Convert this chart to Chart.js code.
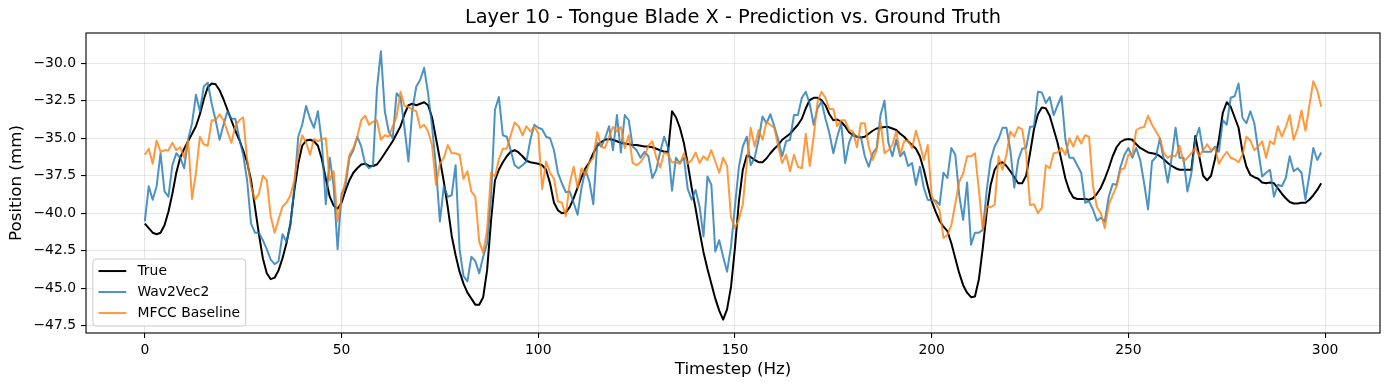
<!DOCTYPE html>
<html>
<head>
<meta charset="utf-8">
<script src="https://cdn.jsdelivr.net/npm/chart.js@4.4.0/dist/chart.umd.min.js"></script>
<style>
    html, body { margin: 0; padding: 0; background: #ffffff; }
    canvas { display: block; }
</style>
</head>
<body>
<canvas id="chart" width="1389" height="390"></canvas>
<script>
// Layer 10 - Tongue Blade X, one value per timestep (0..299)
const trueVals = [
    -40.7, -41.0, -41.3, -41.4, -41.3, -40.8, -39.9, -38.7, -37.3, -36.3,
    -35.7, -35.2, -34.7, -34.2, -33.4, -32.4, -31.6, -31.35, -31.4, -31.8,
    -32.4, -33.1, -33.8, -34.5, -35.1, -35.8, -36.6, -37.8, -39.6, -41.4,
    -43.0, -44.0, -44.4, -44.3, -43.8, -43.0, -42.0, -40.7, -38.5, -36.7,
    -35.5, -35.15, -35.1, -35.2, -35.5, -36.4, -37.7, -38.9, -39.5, -39.7,
    -39.3, -38.5, -37.8, -37.3, -37.0, -36.75, -36.7, -36.85, -36.85, -36.75,
    -36.4, -36.0, -35.6, -35.2, -34.7, -34.2, -33.4, -32.8, -32.7, -32.8,
    -32.7, -32.6, -32.8, -33.6, -35.0, -36.4, -37.9, -39.6, -41.5, -42.8,
    -43.9, -44.7, -45.3, -45.7, -46.1, -46.1, -45.6, -43.8, -40.5, -37.8,
    -37.1, -36.6, -36.2, -35.9, -35.8, -35.95, -36.2, -36.5, -36.6, -36.65,
    -36.7, -36.8, -37.1, -38.0, -39.3, -39.8, -40.0, -39.95, -39.6, -39.0,
    -38.3, -37.6, -37.0, -36.6, -36.0, -35.5, -35.25, -35.1, -35.05, -35.1,
    -35.2, -35.3, -35.35, -35.4, -35.45, -35.45, -35.5, -35.55, -35.55, -35.6,
    -35.7, -35.8, -35.9, -35.9, -33.2, -33.6, -34.3, -35.3, -36.7, -38.3,
    -39.7, -41.2, -42.6, -43.7, -44.7, -45.7, -46.5, -47.1, -46.4, -44.9,
    -42.3, -39.2, -37.1, -36.15, -36.25, -36.45, -36.6, -36.6, -36.35, -36.0,
    -35.7, -35.45, -35.1, -34.9, -34.7, -34.4, -34.1, -33.7, -33.0, -32.45,
    -32.3, -32.3, -32.45, -32.8, -33.4, -33.8, -33.75, -33.9, -34.2, -34.6,
    -34.8, -34.9, -34.95, -34.9, -34.7, -34.5, -34.35, -34.3, -34.25, -34.25,
    -34.35, -34.45, -34.7, -34.9, -35.2, -35.45, -35.7, -36.2, -37.1, -38.2,
    -39.2, -39.9, -40.5, -40.9, -41.2, -42.0, -43.0, -44.0, -44.8, -45.3,
    -45.6, -45.55, -44.4, -42.3, -39.9, -38.1, -37.1, -36.7, -36.6, -36.85,
    -37.2, -37.6, -38.0, -38.0, -37.5, -36.0, -34.4, -33.4, -32.95, -33.0,
    -33.5, -34.4, -35.3, -36.5, -37.7, -38.5, -38.95, -39.05, -39.05, -39.05,
    -39.1, -39.0, -38.7, -38.3, -37.7, -37.0, -36.2, -35.6, -35.25, -35.1,
    -35.05, -35.1, -35.4, -35.65, -35.8, -35.95, -36.0, -36.05, -36.2, -36.4,
    -36.65, -36.85, -37.0, -37.1, -37.1, -37.1, -37.1, -34.85, -36.2, -37.5,
    -37.8, -37.5, -36.4, -35.1, -33.3, -32.6, -32.9, -33.6, -34.3, -35.9,
    -36.9, -37.45, -37.6, -37.7, -37.95, -38.0, -37.95, -38.0, -38.35, -38.7,
    -39.0, -39.25, -39.35, -39.35, -39.3, -39.3, -39.1, -38.8, -38.45, -38.0
];

const wav2vecVals = [
    -40.55, -38.2, -39.1, -38.2, -36.0, -38.55, -38.9, -36.8, -36.0, -36.3,
    -37.0, -35.1, -34.0, -32.1, -33.2, -31.55, -31.3, -32.7, -33.8, -35.1,
    -34.1, -33.2, -33.7, -33.7, -35.0, -36.1, -37.8, -40.7, -41.3, -41.3,
    -41.8, -42.4, -43.1, -43.4, -43.2, -41.4, -41.9, -40.8, -38.3, -34.9,
    -34.1, -32.85, -33.7, -34.3, -33.2, -35.3, -39.4, -36.3, -38.2, -42.4,
    -38.7, -38.2, -36.3, -35.8, -34.9, -35.55, -36.7, -37.0, -36.8, -31.7,
    -29.2, -33.2, -34.55, -35.0, -32.0, -32.3, -34.3, -36.55, -33.1, -31.55,
    -31.1, -30.3, -32.0, -34.2, -36.9, -40.55, -38.2, -38.9, -38.8, -36.8,
    -42.4, -44.2, -44.55, -42.9, -43.2, -44.0, -42.9, -42.0, -38.9, -33.1,
    -32.25, -34.8, -34.9, -35.8, -36.8, -37.0, -36.8, -36.55, -35.1, -34.1,
    -34.3, -34.4, -34.9, -35.0, -35.8, -37.3, -38.0, -38.6, -38.55, -39.3,
    -40.1, -38.3, -37.1, -37.9, -39.4, -35.3, -35.55, -35.0, -34.2, -35.8,
    -33.45, -35.95, -33.45, -33.8, -35.55, -35.8, -36.3, -35.9, -36.2, -37.65,
    -37.1, -35.9, -34.9, -35.65, -38.5, -36.3, -36.65, -36.3, -38.4, -39.1,
    -38.45, -39.55, -41.55, -37.55, -38.1, -42.55, -41.8, -42.9, -43.9, -42.2,
    -39.55, -36.9, -35.55, -34.9, -36.8, -36.3, -35.1, -33.55, -34.0, -33.4,
    -34.2, -35.1, -36.2, -35.2, -35.1, -33.45, -33.45, -32.3, -31.9, -32.7,
    -34.1, -33.0, -32.55, -33.7, -34.65, -36.0, -34.9, -34.0, -36.65, -35.3,
    -34.65, -34.9, -34.9, -36.2, -36.9, -36.0, -35.65, -33.45, -32.5, -35.3,
    -36.2, -35.1, -36.2, -35.9, -36.85, -36.65, -38.1, -36.9, -38.3, -39.1,
    -39.15, -39.15, -39.45, -37.3, -37.65, -35.65, -36.1, -38.8, -40.45, -37.95,
    -42.1, -41.3, -41.3, -41.1, -38.45, -36.45, -35.55, -35.05, -34.3, -34.3,
    -35.8, -38.3, -36.45, -35.7, -35.65, -34.25, -34.2, -31.9, -31.95, -32.65,
    -32.25, -33.45, -32.8, -32.2, -35.1, -36.3, -36.3, -36.8, -37.3, -39.3,
    -39.2, -39.75, -40.5, -40.3, -40.55, -38.9, -38.05, -38.1, -36.9, -36.1,
    -35.65, -36.3, -35.65, -36.45, -38.0, -39.75, -36.55, -36.25, -35.0, -36.45,
    -37.95, -36.3, -34.3, -36.3, -36.3, -38.55, -37.35, -35.1, -34.3, -35.9,
    -35.9, -35.9, -35.55, -35.9, -33.8, -34.1, -32.3, -32.2, -31.35, -33.65,
    -34.0, -33.2, -34.0, -35.8, -37.55, -37.3, -37.1, -38.9, -38.1, -38.2,
    -37.65, -36.2, -37.2, -37.0, -37.3, -39.1, -37.45, -35.65, -36.45, -35.95
];

const mfccVals = [
    -36.1, -35.7, -36.7, -35.15, -35.9, -35.8, -35.8, -35.3, -35.8, -35.6,
    -36.3, -35.1, -39.05, -37.3, -34.9, -35.4, -35.5, -33.8, -33.8, -33.4,
    -33.8, -34.55, -35.3, -34.2, -33.8, -33.6, -36.4, -38.2, -39.1, -38.7,
    -37.5, -37.8, -40.2, -41.3, -40.4, -39.55, -39.3, -38.8, -37.8, -36.0,
    -34.8, -35.3, -36.1, -35.05, -35.2, -35.05, -35.0, -37.8, -37.2, -40.55,
    -39.0, -37.8, -36.1, -35.65, -34.9, -33.8, -33.5, -34.1, -33.9, -33.8,
    -35.1, -34.8, -34.9, -34.2, -33.55, -31.9, -32.85, -32.9, -33.1, -33.2,
    -34.3, -34.1, -34.55, -35.45, -38.1, -36.7, -36.3, -35.45, -36.0, -36.0,
    -36.1, -37.7, -37.2, -38.55, -38.9, -41.9, -42.65, -41.1, -37.3, -37.55,
    -36.4, -35.7, -35.7, -34.8, -33.95, -34.2, -34.8, -34.2, -34.55, -34.25,
    -34.65, -38.4, -36.55, -37.3, -37.7, -39.2, -39.3, -40.2, -38.0, -36.9,
    -38.3, -37.0, -37.45, -36.6, -36.3, -34.6, -35.55, -35.65, -34.9, -34.25,
    -34.55, -34.25, -35.65, -34.8, -36.65, -36.8, -36.6, -36.2, -35.5, -35.2,
    -36.3, -36.95, -35.95, -36.1, -36.6, -36.6, -36.7, -36.0, -36.7, -36.45,
    -35.95, -36.65, -36.2, -36.45, -35.8, -36.55, -37.3, -36.3, -36.85, -40.3,
    -41.0, -40.4, -39.4, -36.65, -34.3, -35.55, -34.45, -35.1, -33.9, -34.1,
    -34.3, -35.55, -36.65, -36.1, -37.2, -36.1, -36.9, -37.0, -34.7, -36.85,
    -34.9, -32.55, -31.9, -32.3, -33.05, -33.05, -34.2, -33.8, -33.8, -34.45,
    -34.55, -35.6, -34.0, -34.0, -35.55, -36.45, -35.8, -33.9, -36.0, -35.8,
    -35.45, -34.55, -36.1, -35.2, -35.15, -35.65, -34.5, -35.4, -36.45, -35.45,
    -38.85, -39.35, -39.8, -41.65, -41.45, -40.8, -39.35, -37.9, -37.35, -36.2,
    -36.2, -36.0, -38.45, -41.15, -39.55, -39.6, -39.45, -36.2, -37.1, -36.1,
    -34.55, -34.9, -34.25, -34.4, -36.0, -39.45, -39.4, -40.0, -39.65, -36.8,
    -37.0, -36.0, -35.95, -35.65, -36.1, -35.0, -35.55, -34.85, -35.35, -34.8,
    -34.9, -38.2, -39.6, -40.0, -41.0, -39.45, -38.8, -38.2, -37.1, -37.0,
    -36.1, -36.1, -34.45, -34.3, -34.25, -33.5, -34.1, -34.55, -35.0, -36.0,
    -36.3, -36.15, -36.2, -35.5, -36.55, -36.3, -36.0, -35.65, -36.2, -35.8,
    -35.4, -35.8, -35.65, -36.7, -36.25, -35.9, -36.3, -36.4, -36.6, -36.1,
    -34.9, -35.15, -35.8, -35.55, -35.2, -36.3, -35.2, -35.4, -34.2, -34.9,
    -34.25, -33.45, -35.1, -34.35, -33.15, -34.5, -32.8, -31.2, -31.8, -32.9
];

const xTicks = [0, 50, 100, 150, 200, 250, 300];
const yTicks = [-47.5, -45.0, -42.5, -40.0, -37.5, -35.0, -32.5, -30.0];

const seriesNames = ['True', 'Wav2Vec2', 'MFCC Baseline'];
const titleText = 'Layer 10 - Tongue Blade X - Prediction vs. Ground Truth';

const FONT = 'DejaVu Sans, Arial, sans-serif';
const toPoints = (vals) => vals.map((v, i) => ({ x: i, y: v }));
const fmtY = (v) => (v < 0 ? '\u2212' : '') + Math.abs(v).toFixed(1);

const gridColor = 'rgba(176, 176, 176, 0.3)';

const framePlugin = {
    id: 'mplFrame',
    beforeDraw(c) {
        const { ctx, width, height } = c;
        ctx.save();
        ctx.fillStyle = '#ffffff';
        ctx.fillRect(0, 0, width, height);
        ctx.restore();
    },
    afterDraw(c) {
        const { ctx, chartArea: a } = c;
        ctx.save();
        // axes frame
        ctx.strokeStyle = '#000000';
        ctx.lineWidth = 1.1;
        ctx.strokeRect(a.left, a.top, a.right - a.left, a.bottom - a.top);

        // title, centred over the axes
        ctx.fillStyle = '#000000';
        ctx.font = '19.4px ' + FONT;
        ctx.textAlign = 'center';
        ctx.textBaseline = 'middle';
        ctx.fillText(titleText, (a.left + a.right) / 2, 18);

        // legend, lower left
        const fs = 13.9;
        ctx.font = fs + 'px ' + FONT;
        const labels = c.data.datasets.map((d) => d.label);
        const textW = Math.max(...labels.map((l) => ctx.measureText(l).width));
        const pad = 0.4 * fs, handle = 2.0 * fs, gap = 0.8 * fs, rowH = 21;
        const boxW = pad * 2 + handle + gap + textW;
        const boxH = 67;
        const bx = a.left + 0.5 * fs;
        const by = a.bottom - 0.5 * fs - boxH;
        ctx.beginPath();
        ctx.roundRect(bx, by, boxW, boxH, 3);
        ctx.fillStyle = 'rgba(255, 255, 255, 0.8)';
        ctx.fill();
        ctx.strokeStyle = '#cccccc';
        ctx.lineWidth = 1;
        ctx.stroke();
        ctx.textAlign = 'left';
        labels.forEach((l, i) => {
            const ds = c.data.datasets[i];
            const y = by + 12 + i * rowH;
            ctx.beginPath();
            ctx.moveTo(bx + pad, y);
            ctx.lineTo(bx + pad + handle, y);
            ctx.strokeStyle = ds.borderColor;
            ctx.lineWidth = 2;
            ctx.stroke();
            ctx.fillStyle = '#000000';
            ctx.fillText(l, bx + pad + handle + gap, y);
        });
        ctx.restore();
    },
};

new Chart(document.getElementById('chart').getContext('2d'), {
    type: 'line',
    data: {
        datasets: [
            {
                label: seriesNames[0],
                data: toPoints(trueVals),
                borderColor: '#000000',
                borderWidth: 2,
                order: 2,
            },
            {
                label: seriesNames[1],
                data: toPoints(wav2vecVals),
                borderColor: 'rgba(31, 119, 180, 0.8)',
                borderWidth: 2,
                order: 1,
            },
            {
                label: seriesNames[2],
                data: toPoints(mfccVals),
                borderColor: 'rgba(255, 127, 14, 0.8)',
                borderWidth: 2,
                order: 0,
            },
        ],
    },
    options: {
        responsive: false,
        animation: false,
        devicePixelRatio: 1,
        layout: { padding: { top: 33, right: 9, bottom: 0, left: 0 } },
        elements: {
            point: { radius: 0 },
            line: { tension: 0, borderJoinStyle: 'round', borderCapStyle: 'butt', fill: false },
        },
        plugins: {
            legend: { display: false },
            title: { display: false },
            tooltip: { enabled: false },
        },
        scales: {
            x: {
                type: 'linear',
                min: -14.95,
                max: 313.95,
                afterBuildTicks: (s) => { s.ticks = xTicks.map((v) => ({ value: v })); },
                afterFit: (s) => { s.height = 57; },
                grid: { color: gridColor, lineWidth: 1.1, tickColor: '#000000', tickLength: 5, tickWidth: 1.1 },
                border: { display: false },
                ticks: {
                    color: '#000000',
                    padding: 4,
                    maxRotation: 0,
                    autoSkip: false,
                    font: { family: FONT, size: 13.9 },
                    callback: (v) => String(v),
                },
                title: {
                    display: true,
                    text: 'Timestep (Hz)',
                    color: '#000000',
                    font: { family: FONT, size: 16.7 },
                    padding: { top: 0, bottom: 10 },
                },
            },
            y: {
                type: 'linear',
                min: -47.99,
                max: -27.98,
                afterBuildTicks: (s) => { s.ticks = yTicks.map((v) => ({ value: v })); },
                afterFit: (s) => { s.width = 86; },
                grid: { color: gridColor, lineWidth: 1.1, tickColor: '#000000', tickLength: 5, tickWidth: 1.1 },
                border: { display: false },
                ticks: {
                    color: '#000000',
                    padding: 5,
                    autoSkip: false,
                    font: { family: FONT, size: 13.9 },
                    callback: (v) => fmtY(v),
                },
                title: {
                    display: true,
                    text: 'Position (mm)',
                    color: '#000000',
                    font: { family: FONT, size: 16.7 },
                    padding: { top: 7, bottom: 0 },
                },
            },
        },
    },
    plugins: [framePlugin],
});
</script>
</body>
</html>
